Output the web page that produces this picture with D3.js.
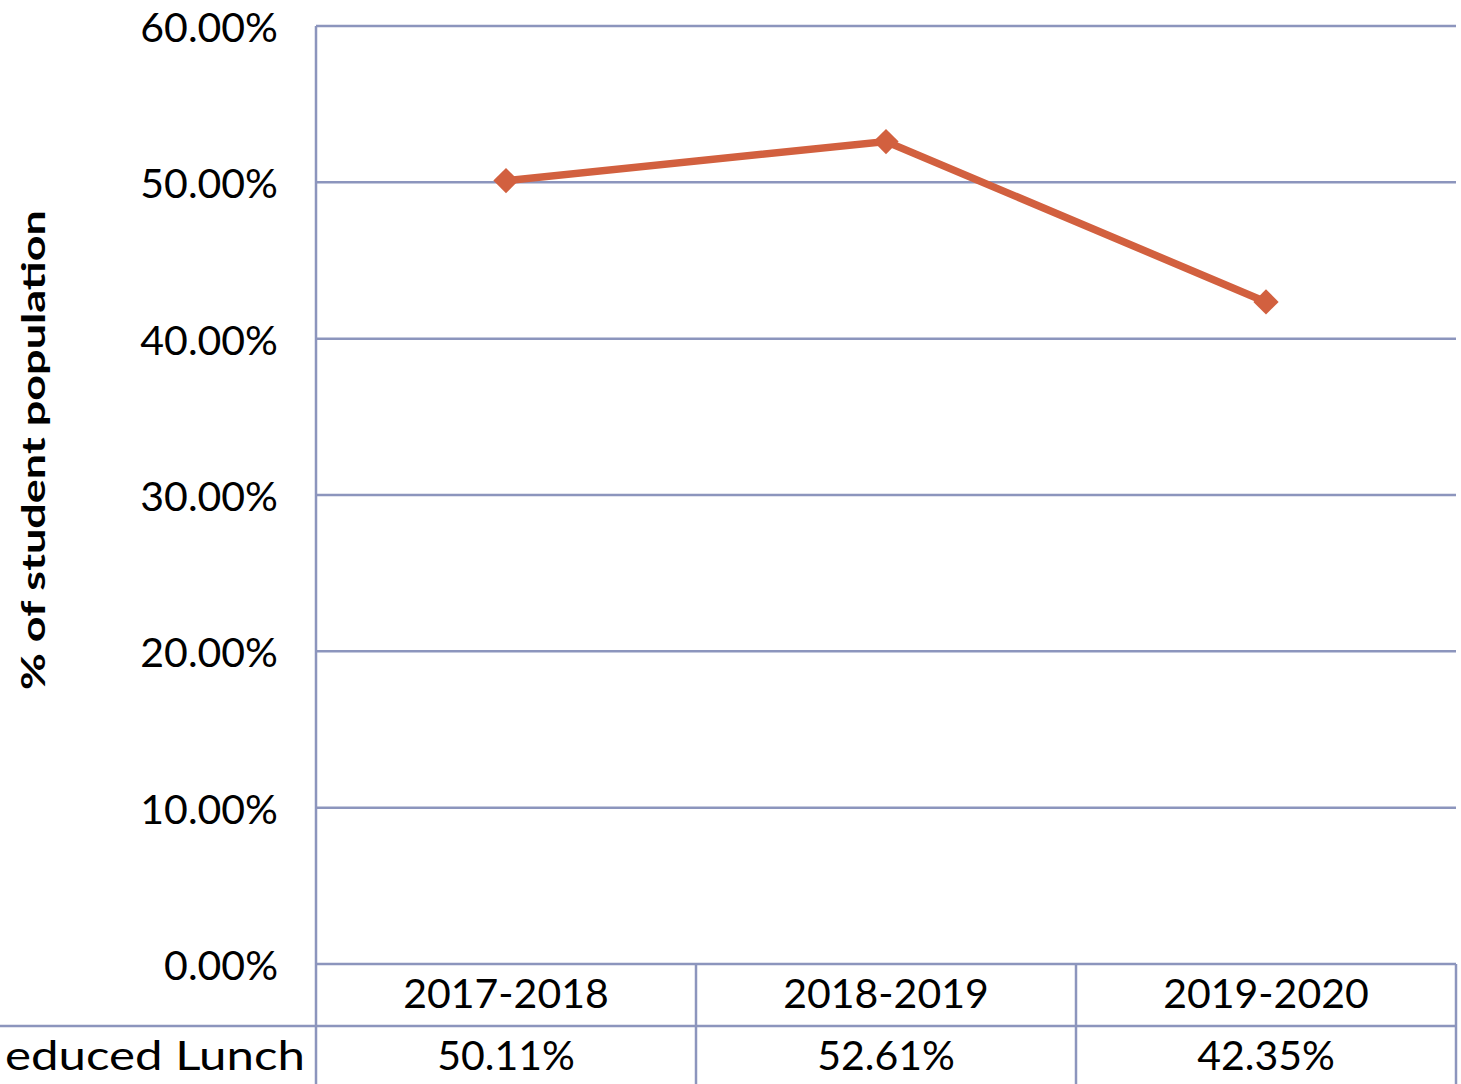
<!DOCTYPE html>
<html>
<head>
<meta charset="UTF-8">
<script src="https://d3js.org/d3.v7.min.js"></script>
<style>
  body { margin: 0; background: #fff; }
  text { font-family: "Lato", "DejaVu Sans", sans-serif; fill: #000; }
</style>
</head>
<body>
<svg width="1461" height="1084"></svg>
<script>
const years = ["2017-2018", "2018-2019", "2019-2020"];
const values = [50.11, 52.61, 42.35];
const yTicks = [0, 10, 20, 30, 40, 50, 60];
const rowLabel = "educed Lunch"; // the series name is cut at the left edge in the source
const yTitle = "% of student population";

const width = 1461, height = 1084;
const plotLeft = 316, plotRight = 1456, plotTop = 26, plotBottom = 964;
const rowH = 62;
const grid = "#8c95bd";

const svg = d3.select("svg");

const x = d3.scaleBand().domain(years).range([plotLeft, plotRight]);
const y = d3.scaleLinear().domain([0, 60]).range([plotBottom, plotTop]);

// gridlines
svg.append("g").selectAll("line")
  .data(yTicks)
  .join("line")
  .attr("x1", plotLeft).attr("x2", plotRight)
  .attr("y1", d => y(d)).attr("y2", d => y(d))
  .attr("stroke", grid).attr("stroke-width", 2.5);

// y tick labels
svg.append("g").selectAll("text")
  .data(yTicks)
  .join("text")
  .attr("x", 278)
  .attr("y", d => y(d) + 16)
  .attr("text-anchor", "end")
  .attr("font-size", 41)
  .text(d => d.toFixed(2) + "%");

// y title
svg.append("text")
  .attr("transform", `translate(45,450) rotate(-90)`)
  .attr("text-anchor", "middle")
  .attr("font-family", "DejaVu Sans")
  .attr("font-size", 33)
  .attr("font-weight", "bold")
  .attr("textLength", 480)
  .attr("lengthAdjust", "spacingAndGlyphs")
  .text(yTitle);

// data table
const tb = svg.append("g");
tb.append("line").attr("x1", plotLeft).attr("x2", plotLeft).attr("y1", plotTop).attr("y2", height)
  .attr("stroke", grid).attr("stroke-width", 2.5);
tb.append("line").attr("x1", 0).attr("x2", plotRight).attr("y1", plotBottom + rowH).attr("y2", plotBottom + rowH)
  .attr("stroke", grid).attr("stroke-width", 2.5);
tb.selectAll("line.v")
  .data(years)
  .join("line")
  .attr("class", "v")
  .attr("x1", d => x(d) + x.bandwidth()).attr("x2", d => x(d) + x.bandwidth())
  .attr("y1", plotBottom).attr("y2", height)
  .attr("stroke", grid).attr("stroke-width", 2.5);

tb.selectAll("text.cat")
  .data(years)
  .join("text")
  .attr("class", "cat")
  .attr("x", d => x(d) + x.bandwidth() / 2)
  .attr("y", plotBottom + 44)
  .attr("text-anchor", "middle")
  .attr("font-size", 41)
  .text(d => d);

tb.selectAll("text.val")
  .data(values)
  .join("text")
  .attr("class", "val")
  .attr("x", (d, i) => x(years[i]) + x.bandwidth() / 2)
  .attr("y", plotBottom + rowH + 44)
  .attr("text-anchor", "middle")
  .attr("font-size", 41)
  .text(d => d.toFixed(2) + "%");

tb.append("text")
  .attr("x", 305)
  .attr("y", plotBottom + rowH + 44)
  .attr("text-anchor", "end")
  .attr("font-size", 41)
  .attr("textLength", 300)
  .attr("lengthAdjust", "spacingAndGlyphs")
  .text(rowLabel);

// line
const line = d3.line()
  .x((d, i) => x(years[i]) + x.bandwidth() / 2)
  .y(d => y(d));

svg.append("path")
  .datum(values)
  .attr("d", line)
  .attr("fill", "none")
  .attr("stroke", "#d2603f")
  .attr("stroke-width", 7.5);

svg.append("g").selectAll("path")
  .data(values)
  .join("path")
  .attr("d", d3.symbol(d3.symbolSquare, 320))
  .attr("transform", (d, i) => `translate(${x(years[i]) + x.bandwidth() / 2},${y(d)}) rotate(45)`)
  .attr("fill", "#d2603f");
</script>
</body>
</html>
